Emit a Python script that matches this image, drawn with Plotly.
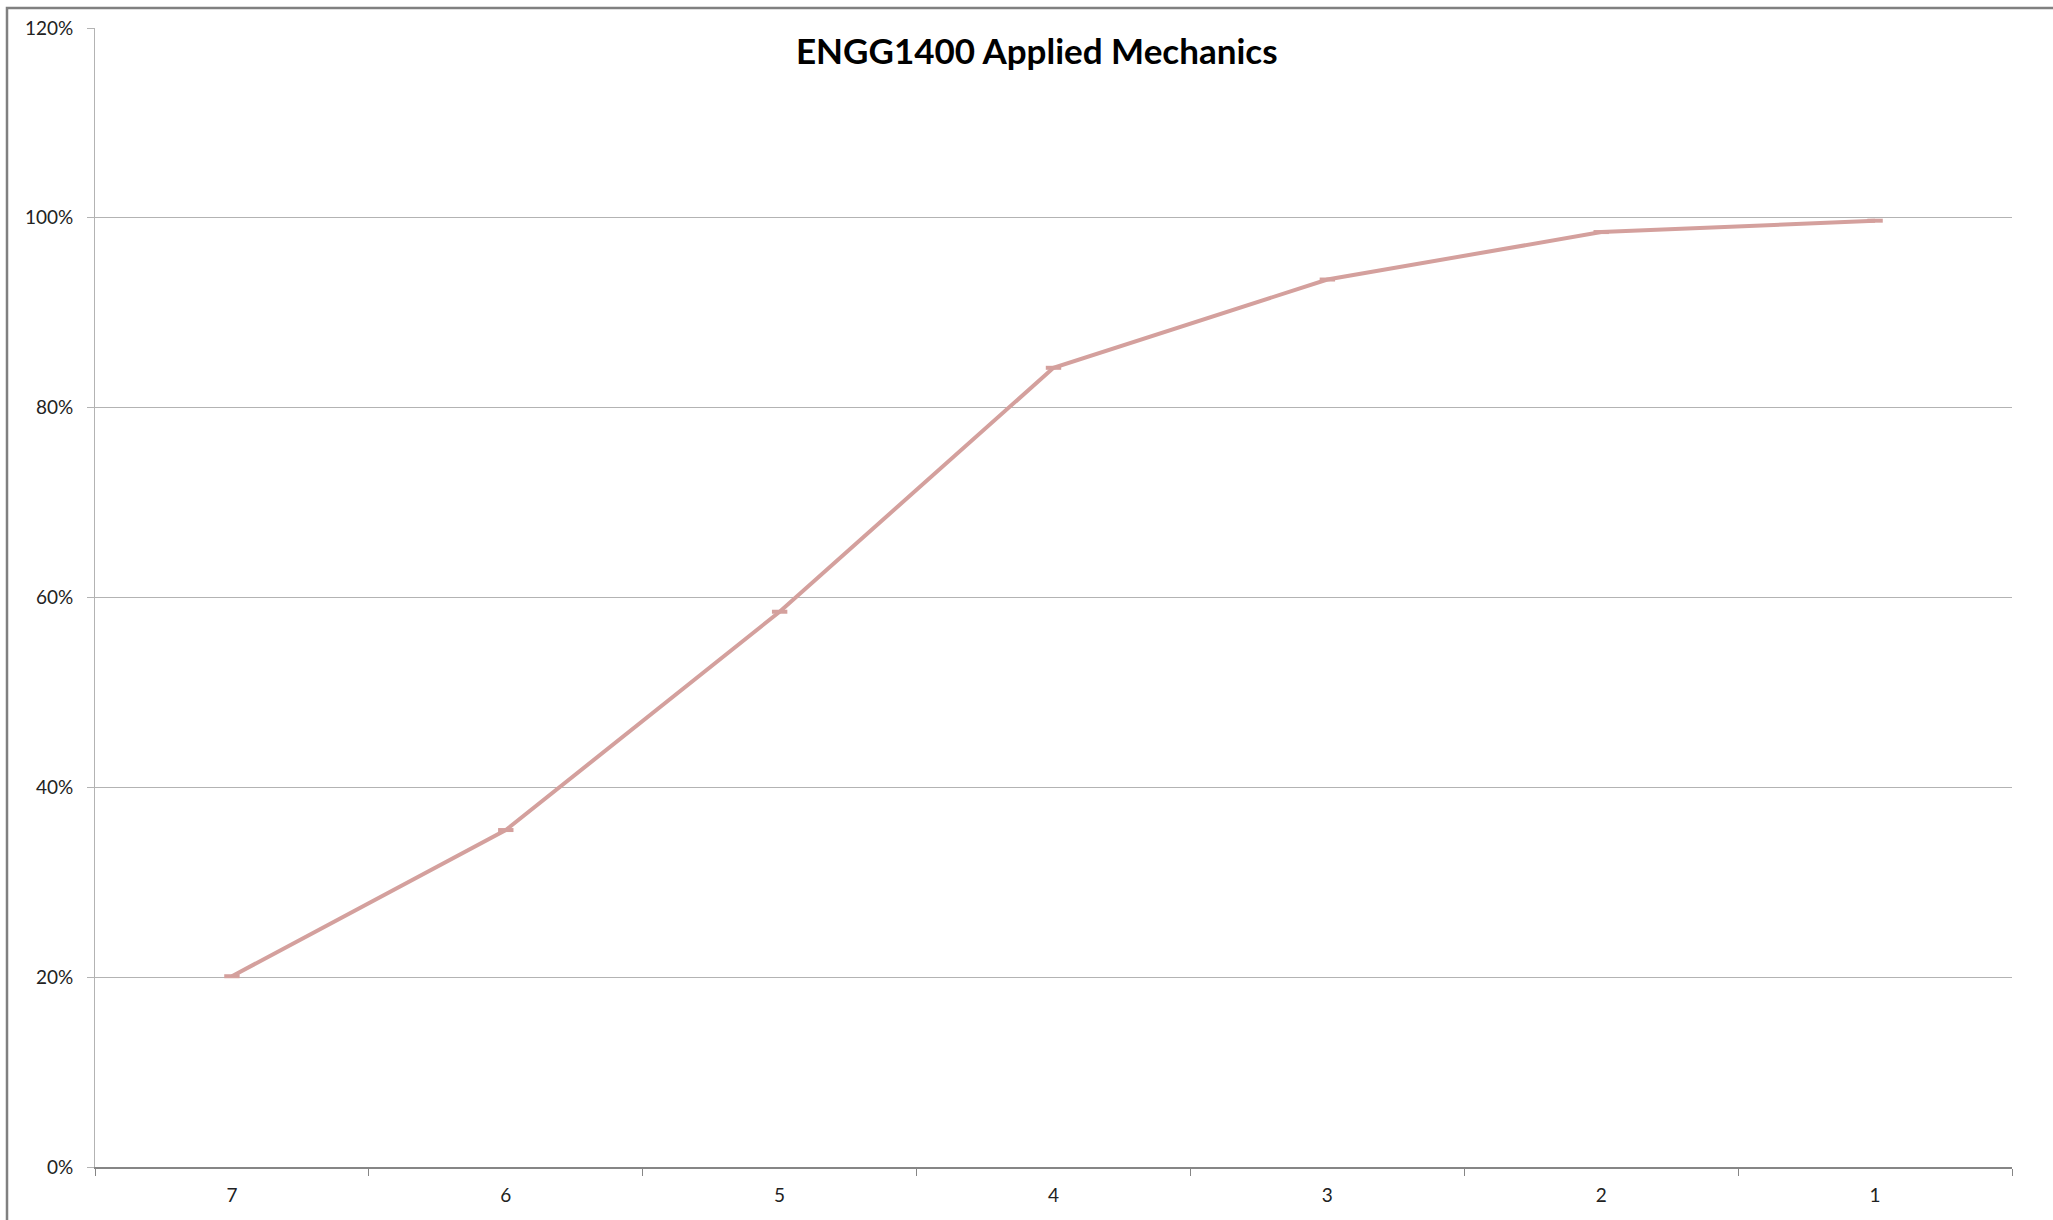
import plotly.graph_objects as go

grades = ["7", "6", "5", "4", "3", "2", "1"]
cumulative = [0.201, 0.355, 0.585, 0.842, 0.935, 0.985, 0.997]
y_ticks = [0, 0.2, 0.4, 0.6, 0.8, 1.0, 1.2]
title_text = "ENGG1400 Applied Mechanics"

W, H = 2053, 1220
L, R, T, B = 95, 41, 28, 53
pw, ph = W - L - R, H - T - B

line_color = "#D4A09D"

fig = go.Figure()
fig.add_trace(go.Scatter(
    x=grades, y=cumulative, mode="lines+markers",
    line=dict(color=line_color, width=4),
    marker=dict(symbol="line-ew", size=11, line=dict(color=line_color, width=4)),
    showlegend=False, hoverinfo="x+y",
))

font_family = "Lato, 'Open Sans', sans-serif"

fig.update_layout(
    width=W, height=H,
    margin=dict(l=L, r=R, t=T, b=B, pad=0),
    paper_bgcolor="white", plot_bgcolor="white",
    font=dict(family=font_family, size=19, color="#222222"),
    xaxis=dict(
        type="category", range=[-0.5, len(grades) - 0.5],
        showgrid=False, showline=True, linecolor="#868686", linewidth=1.5,
        ticks="outside", tickson="boundaries", ticklen=7, tickcolor="#868686", tickwidth=1,
        tickfont=dict(size=19, color="#222222"), ticklabelstandoff=10,
        zeroline=False,
    ),
    yaxis=dict(
        range=[0, 1.2], tickvals=y_ticks, tickformat=".0%",
        showgrid=True, gridcolor="#B3B3B3", gridwidth=1,
        showline=True, linecolor="#B3B3B3", linewidth=1,
        ticks="outside", ticklen=7, tickcolor="#B3B3B3",
        tickfont=dict(size=19, color="#222222"), ticklabelstandoff=10,
        zeroline=False,
    ),
    annotations=[dict(
        text="<b>" + title_text + "</b>", xref="paper", yref="paper",
        x=(1037 - L) / pw, y=1 - (50 - T) / ph, xanchor="center", yanchor="middle",
        showarrow=False, font=dict(family=font_family, size=35, color="#000000"),
    )],
    shapes=[dict(
        type="rect", xref="paper", yref="paper",
        x0=(7 - L) / pw, x1=1.2, y0=-0.2, y1=1 + (T - 8) / ph,
        line=dict(color="#808080", width=2.5), fillcolor="rgba(0,0,0,0)", layer="below",
    )],
)

fig.write_html(
    "out.html",
    config={"displayModeBar": False},
    post_script="document.body.style.margin='0px';document.body.style.overflow='hidden';",
)
